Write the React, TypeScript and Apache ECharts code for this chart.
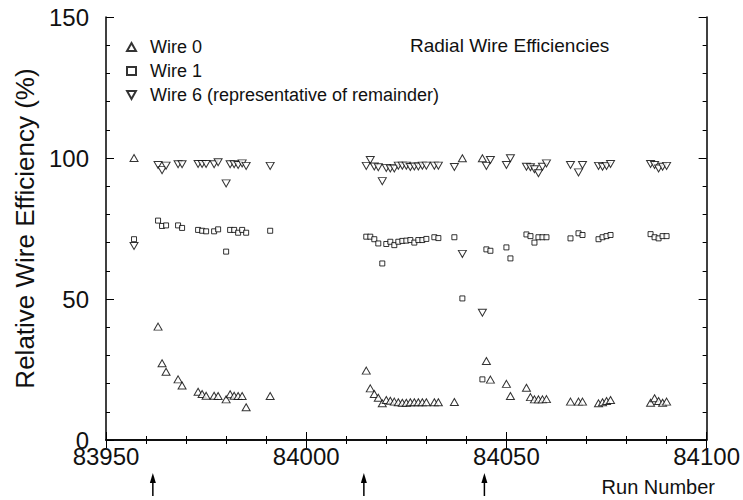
import React, { useEffect, useRef } from "react";
import * as echarts from "echarts";

const runs = [
  83957, 83963, 83964, 83965, 83968, 83969, 83973, 83974, 83975, 83977, 83978, 83980, 83981, 83982, 83983, 83984, 83985, 83991,
  84015, 84016, 84017, 84018, 84019, 84020, 84021, 84022, 84023, 84024, 84025, 84026, 84027, 84028, 84029, 84030, 84032, 84033,
  84037, 84039, 84044, 84045, 84046, 84050, 84051, 84055, 84056, 84057, 84058, 84059, 84060, 84066, 84068, 84069, 84073, 84074,
  84075, 84076, 84086, 84087, 84088, 84089, 84090,
];

const wire0 = [
  100, 40.2, 27.2, 24.2, 21.5, 19.3, 17.1, 16.3, 15.7, 15.7, 15.6, 14.4, 16.2, 15.7, 15.6, 15.6, 11.6, 15.6,
  24.6, 18.3, 16.3, 15.0, 13.0, 14.2, 13.9, 13.6, 13.4, 13.2, 13.2, 13.4, 13.4, 13.4, 13.4, 13.4, 13.4, 13.4,
  13.5, 99.9, 99.9, 28.0, 21.4, 19.9, 15.6, 18.5, 15.2, 14.4, 14.4, 14.4, 14.5, 13.6, 13.6, 13.6, 13.0, 13.4,
  13.8, 14.2, 13.2, 14.8, 13.8, 13.2, 13.6,
];

const wire1 = [
  71.2, 77.8, 75.9, 76.1, 76.1, 75.2, 74.5, 74.2, 74.0, 74.0, 74.7, 66.8, 74.5, 74.5, 73.5, 74.5, 73.5, 74.2,
  72.1, 72.1, 71.2, 69.7, 62.6, 69.5, 70.3, 69.1, 70.3, 70.6, 70.7, 70.9, 70.0, 70.9, 70.9, 71.3, 71.9, 71.6,
  71.9, 50.2, 21.5, 67.6, 67.1, 68.3, 64.4, 72.9, 72.3, 70.0, 71.9, 71.9, 71.9, 71.5, 73.3, 72.7, 71.2, 71.9,
  72.3, 72.7, 73.0, 71.9, 71.5, 72.3, 72.3,
];

const wire6 = [
  68.8, 97.5, 95.7, 97.3, 97.8, 97.8, 97.9, 97.9, 97.9, 97.8, 98.5, 91.0, 97.8, 97.8, 97.5, 98.1, 97.2, 97.2,
  97.2, 99.3, 97.0, 96.7, 91.8, 96.5, 96.3, 96.3, 97.3, 97.3, 97.3, 96.8, 97.0, 97.0, 97.3, 97.3, 97.3, 97.3,
  96.8, 66.0, 45.1, 97.2, 99.3, 97.5, 99.9, 96.9, 96.7, 96.0, 94.6, 96.9, 98.1, 97.5, 94.9, 97.5, 97.2, 96.9,
  97.2, 97.9, 97.9, 97.5, 96.3, 96.9, 97.2,
];

const seriesNames = ["Wire 0", "Wire 1", "Wire 6 (representative of remainder)"];
const arrowRuns = [83961.7, 84014.4, 84044.5];
const xTicks = { min: 83950, max: 84100, interval: 50 };
const yTicks = { min: 0, max: 150, interval: 50 };

const FONT = "'Liberation Sans', Arial, sans-serif";
const INV_TRI = "path://M0,0 L10,0 L5,9 Z";

export default function App() {
  const ref = useRef<HTMLDivElement>(null);
  useEffect(() => {
    if (!ref.current) return;
    const chart = echarts.init(ref.current, undefined, { renderer: "svg" });
    const pairs = (vals: number[]) => runs.map((r, i) => [r, vals[i]]);
    const axisCommon = {
      axisLine: { show: true, lineStyle: { color: "#000", width: 1.5 } },
      axisTick: { show: true, inside: true, length: 8, lineStyle: { color: "#000", width: 1 } },
      minorTick: { show: true, splitNumber: 5, length: 4, lineStyle: { color: "#000", width: 1 } },
      splitLine: { show: false },
    };
    const hollow = { color: "#fff", borderColor: "#000", borderWidth: 1 };
    chart.setOption({
      animation: false,
      backgroundColor: "#fff",
      textStyle: { fontFamily: FONT },
      grid: { left: 106, right: 34, top: 17, bottom: 60 },
      title: {
        text: "Radial Wire Efficiencies",
        left: 405,
        top: 31,
        textStyle: { fontFamily: FONT, fontSize: 19, fontWeight: "normal", color: "#111" },
      },
      legend: {
        orient: "vertical",
        left: 121,
        top: 33,
        itemGap: 6,
        itemWidth: 9,
        itemHeight: 8,
        textStyle: { fontFamily: FONT, fontSize: 18, color: "#111", padding: [0, 0, 0, 9] },
        data: [
          { name: seriesNames[0], icon: "triangle" },
          { name: seriesNames[1], icon: "rect" },
          { name: seriesNames[2], icon: INV_TRI },
        ],
      },
      xAxis: [
        {
          type: "value",
          position: "bottom",
          min: xTicks.min,
          max: xTicks.max,
          interval: xTicks.interval,
          ...axisCommon,
          axisLabel: {
            fontFamily: FONT,
            fontSize: 24,
            color: "#111",
            margin: 4,
            formatter: (v: number) => String(v),
          },
        },
        {
          type: "value",
          position: "top",
          min: xTicks.min,
          max: xTicks.max,
          interval: xTicks.interval,
          ...axisCommon,
          axisLabel: { show: false },
        },
      ],
      yAxis: [
        {
          type: "value",
          position: "left",
          min: yTicks.min,
          max: yTicks.max,
          interval: yTicks.interval,
          ...axisCommon,
          axisLabel: { fontFamily: FONT, fontSize: 24, color: "#111", margin: 17 },
          name: "Relative Wire Efficiency (%)",
          nameLocation: "middle",
          nameGap: 68,
          nameTextStyle: { fontFamily: FONT, fontSize: 26, color: "#111" },
        },
        {
          type: "value",
          position: "right",
          min: yTicks.min,
          max: yTicks.max,
          interval: yTicks.interval,
          ...axisCommon,
          axisLabel: { show: false },
        },
      ],
      series: [
        {
          name: seriesNames[0],
          type: "scatter",
          symbol: "triangle",
          symbolSize: [8, 7],
          itemStyle: hollow,
          data: pairs(wire0),
        },
        {
          name: seriesNames[1],
          type: "scatter",
          symbol: "rect",
          symbolSize: 5,
          itemStyle: hollow,
          data: pairs(wire1),
        },
        {
          name: seriesNames[2],
          type: "scatter",
          symbol: INV_TRI,
          symbolSize: [8, 7],
          itemStyle: hollow,
          data: pairs(wire6),
        },
      ],
    });
    const graphics: any[] = [];
    arrowRuns.forEach((r) => {
      const px = chart.convertToPixel({ xAxisIndex: 0 }, r) as number;
      graphics.push({
        type: "line",
        shape: { x1: px, y1: 480, x2: px, y2: 496 },
        style: { stroke: "#000", lineWidth: 1.5 },
      });
      graphics.push({
        type: "polygon",
        shape: { points: [[px, 473], [px - 3, 483], [px + 3, 483]] },
        style: { fill: "#000" },
      });
    });
    graphics.push({
      type: "text",
      x: 715,
      y: 487,
      style: {
        text: "Run Number",
        font: `20px ${FONT}`,
        fill: "#111",
        textAlign: "right",
        textVerticalAlign: "middle",
      },
    });
    chart.setOption({ graphic: graphics });
    return () => chart.dispose();
  }, []);
  return (
    <div
      ref={ref}
      style={{ position: "fixed", left: 0, top: 0, width: 743, height: 500 }}
    />
  );
}
